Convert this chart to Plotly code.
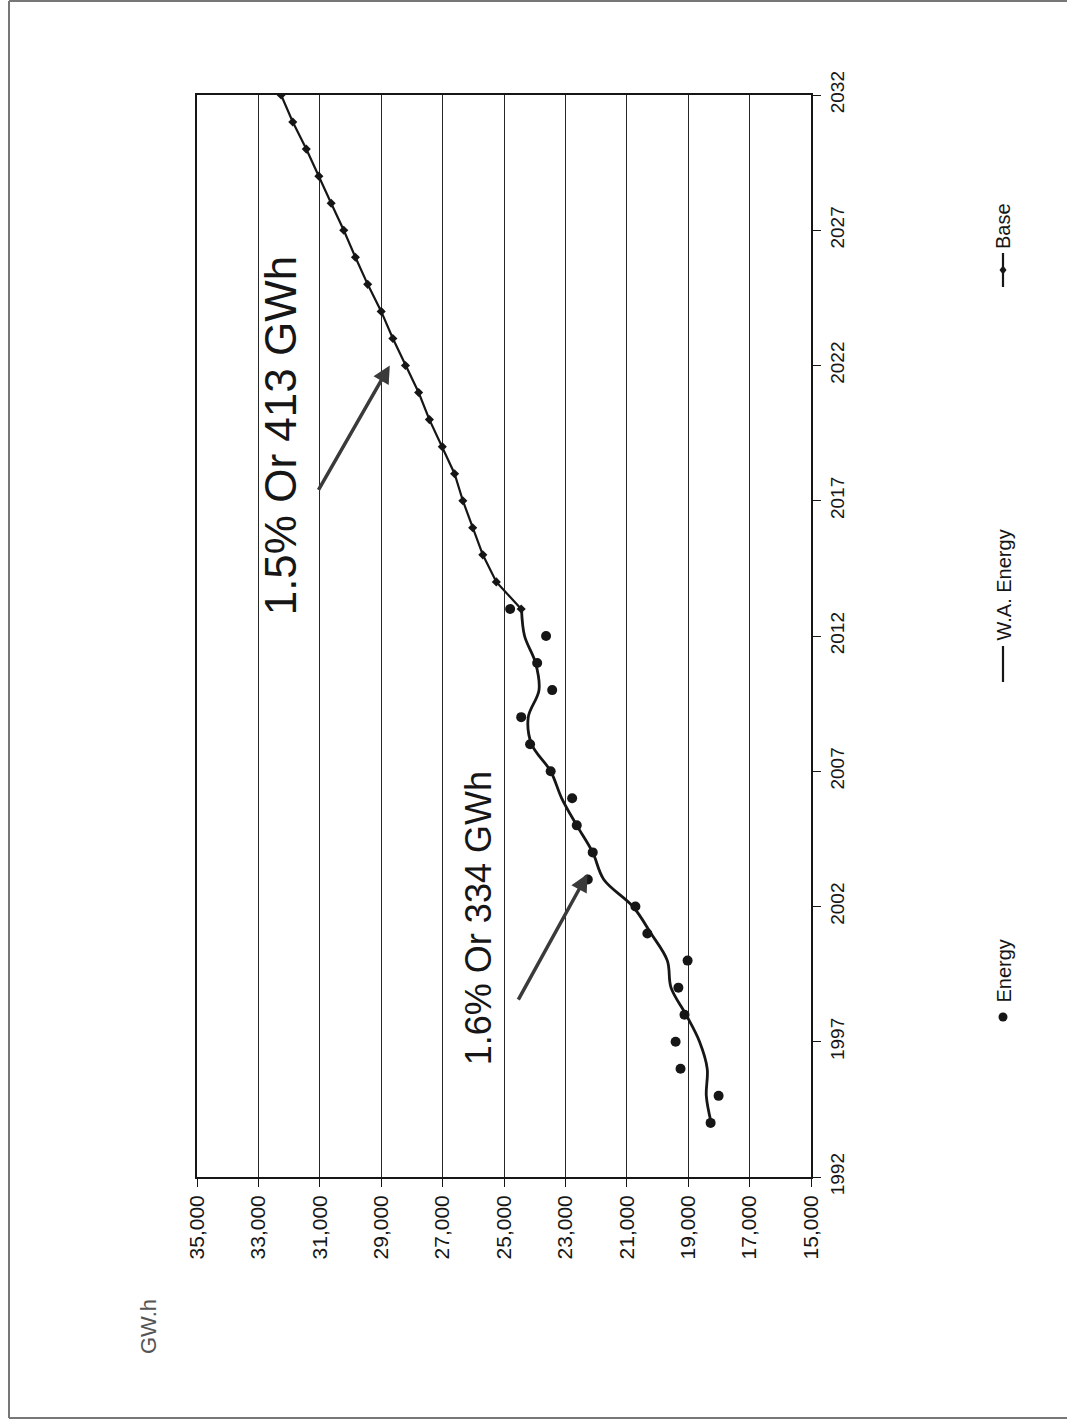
import plotly.graph_objects as go

# ---- data -------------------------------------------------------------
energy_years = list(range(1994, 2014))
energy_gwh = [18270, 18010, 19250, 19410, 19120, 19320, 19020, 20330, 20720, 22270,
              22110, 22630, 22780, 23480, 24150, 24440, 23430, 23920, 23630, 24800]

wa_years = list(range(1994, 2014))
wa_energy_gwh = [18250, 18410, 18380, 18630, 19070, 19560, 19680, 20210, 20800, 21750,
                 22110, 22630, 23120, 23480, 24100, 24210, 23860, 23970, 24330, 24430]

base_years = list(range(2013, 2033))
base_gwh = [24440, 25250, 25690, 26020, 26340, 26610, 27010, 27430, 27780, 28210,
            28620, 29000, 29440, 29840, 30220, 30630, 31030, 31440, 31880, 32260]

gwh_ticks = list(range(15000, 35001, 2000))
year_ticks = list(range(1992, 2033, 5))

# ---- page geometry (pixels) -------------------------------------------
W, H = 1067, 1424
L, R, T, B = 197, 256, 95, 247
PW, PH = W - L - R, H - T - B


def px(x):
    return (x - L) / PW


def py(y):
    return (H - B - y) / PH


FONT = "Liberation Sans, Arial, sans-serif"
INK = "#161616"

fig = go.Figure()

fig.add_trace(go.Scatter(
    x=wa_energy_gwh, y=wa_years, mode="lines", name="W.A. Energy",
    line=dict(color=INK, width=2.8, shape="spline", smoothing=1.0),
))
fig.add_trace(go.Scatter(
    x=base_gwh, y=base_years, mode="lines+markers", name="Base",
    line=dict(color=INK, width=2.2),
    marker=dict(symbol="diamond", size=7, color=INK),
))
fig.add_trace(go.Scatter(
    x=energy_gwh, y=energy_years, mode="markers", name="Energy",
    marker=dict(symbol="circle", size=10, color=INK),
))

annotations = []

# growth call-outs
annotations.append(dict(
    x=25830, y=2001.55, xref="x", yref="y", text="1.6% Or 334 GWh",
    textangle=-90, showarrow=False, xanchor="center", yanchor="middle",
    font=dict(family=FONT, size=36, color=INK),
))
annotations.append(dict(
    x=32280, y=2019.4, xref="x", yref="y", text="1.5% Or 413 GWh",
    textangle=-90, showarrow=False, xanchor="center", yanchor="middle",
    font=dict(family=FONT, size=44, color=INK),
))

# arrows pointing at the curves
annotations.append(dict(
    x=22280, y=2003.2, ax=24560, ay=1998.5, xref="x", yref="y",
    axref="x", ayref="y", text="", showarrow=True, arrowhead=2,
    arrowsize=1.0, arrowwidth=3.5, arrowcolor="#3a3a3a",
))
annotations.append(dict(
    x=28720, y=2022.0, ax=31070, ay=2017.35, xref="x", yref="y",
    axref="x", ayref="y", text="", showarrow=True, arrowhead=2,
    arrowsize=1.0, arrowwidth=3.5, arrowcolor="#3a3a3a",
))

# unit label
annotations.append(dict(
    x=px(148), y=py(1327), xref="paper", yref="paper", text="GW.h",
    textangle=-90, showarrow=False, xanchor="center", yanchor="middle",
    font=dict(family=FONT, size=22, color="#555555"),
))

# legend (rotated, drawn by hand)
LEG_X = 1003
LEG_FONT = dict(family=FONT, size=20, color=INK)
for label, start in (("Energy", 1005), ("W.A. Energy", 643), ("Base", 251)):
    annotations.append(dict(
        x=px(LEG_X), y=py(start), xref="paper", yref="paper", text=label,
        textangle=-90, showarrow=False, xanchor="center", yanchor="bottom",
        font=LEG_FONT,
    ))

shapes = []
# legend symbols
shapes.append(dict(type="circle", xref="paper", yref="paper",
                   x0=px(LEG_X - 4.5), x1=px(LEG_X + 4.5),
                   y0=py(1021.5), y1=py(1012.5),
                   fillcolor=INK, line=dict(color=INK, width=0)))
shapes.append(dict(type="line", xref="paper", yref="paper",
                   x0=px(LEG_X), x1=px(LEG_X), y0=py(682), y1=py(646),
                   line=dict(color=INK, width=2.2)))
shapes.append(dict(type="line", xref="paper", yref="paper",
                   x0=px(LEG_X), x1=px(LEG_X), y0=py(287), y1=py(253),
                   line=dict(color=INK, width=2.2)))
dx, dy = 3.5 / PW, 4.5 / PH
cx, cy = px(LEG_X), py(270)
shapes.append(dict(type="path", xref="paper", yref="paper",
                   path=f"M {cx - dx} {cy} L {cx} {cy + dy} L {cx + dx} {cy} L {cx} {cy - dy} Z",
                   fillcolor=INK, line=dict(color=INK, width=0)))

# page frame: left, top and bottom edges
FRAME = dict(color="#777777", width=2)
shapes.append(dict(type="line", xref="paper", yref="paper",
                   x0=px(9), x1=px(9), y0=py(1), y1=py(1418), line=FRAME))
shapes.append(dict(type="line", xref="paper", yref="paper",
                   x0=px(9), x1=px(1067), y0=py(1), y1=py(1), line=FRAME))
shapes.append(dict(type="line", xref="paper", yref="paper",
                   x0=px(9), x1=px(1067), y0=py(1418), y1=py(1418), line=FRAME))

fig.update_layout(
    width=W, height=H,
    margin=dict(l=L, r=R, t=T, b=B),
    paper_bgcolor="white", plot_bgcolor="white",
    showlegend=False,
    annotations=annotations,
    shapes=shapes,
    font=dict(family=FONT, color=INK),
)

fig.update_xaxes(
    range=[35000, 15000], tickvals=gwh_ticks, tickformat=",",
    tickangle=-90, tickfont=dict(family=FONT, size=21, color=INK),
    showgrid=True, gridcolor="#262626", gridwidth=1.3,
    ticks="outside", ticklen=8, tickcolor=INK, tickwidth=1.2,
    showline=True, linecolor=INK, linewidth=1.6, mirror=True,
    zeroline=False,
)
fig.update_yaxes(
    range=[1992, 2032], tickvals=year_ticks, side="right",
    tickangle=-90, tickfont=dict(family=FONT, size=19, color=INK),
    showgrid=False,
    ticks="outside", ticklen=8, tickcolor=INK, tickwidth=1.2,
    showline=True, linecolor=INK, linewidth=2, mirror=True,
    zeroline=False,
)

fig.write_html("out.html")
